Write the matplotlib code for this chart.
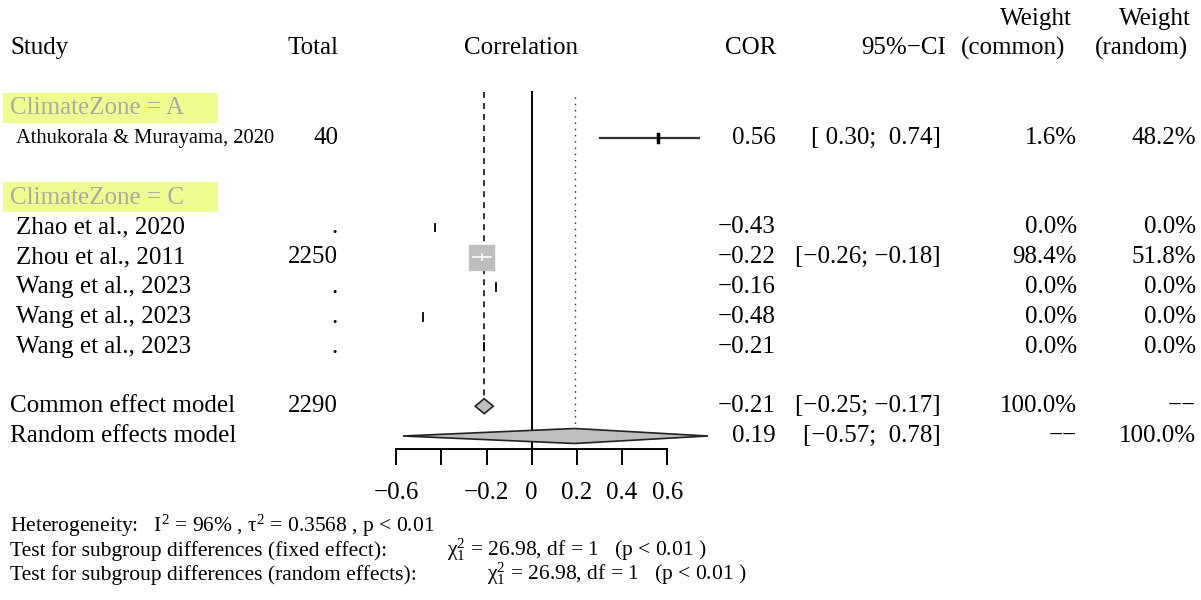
import numpy as np
import matplotlib
matplotlib.use("Agg")
import matplotlib.pyplot as plt
from matplotlib.patches import Rectangle, Polygon
from matplotlib.transforms import blended_transform_factory

plt.rcParams['font.family'] = ['Liberation Serif', 'DejaVu Serif']
plt.rcParams['mathtext.fontset'] = 'custom'
plt.rcParams['mathtext.rm'] = 'Liberation Serif'
plt.rcParams['mathtext.it'] = 'Liberation Serif:italic'

# ---------------- data ----------------
studies = ["Athukorala & Murayama, 2020", "Zhao et al., 2020", "Zhou et al., 2011",
           "Wang et al., 2023", "Wang et al., 2023", "Wang et al., 2023"]
zones = ["A", "C", "C", "C", "C", "C"]
totals = ["40", ".", "2250", ".", ".", "."]
cor = [0.56, -0.43, -0.22, -0.16, -0.48, -0.21]
lower = [0.30, np.nan, -0.26, np.nan, np.nan, np.nan]
upper = [0.74, np.nan, -0.18, np.nan, np.nan, np.nan]
w_common = [1.6, 0.0, 98.4, 0.0, 0.0, 0.0]
w_random = [48.2, 0.0, 51.8, 0.0, 0.0, 0.0]
common_est, common_lo, common_hi = -0.21, -0.25, -0.17
random_est, random_lo, random_hi = 0.19, -0.57, 0.78
total_n = "2290"
xticks = [-0.6, -0.4, -0.2, 0.0, 0.2, 0.4, 0.6]
xtick_labels = ["\u22120.6", "", "\u22120.2", "0", "0.2", "0.4", "0.6"]

# ---------------- layout helpers ----------------
W, H = 1201, 600
PX0 = 531.7       # pixel of x=0
PXU = 226.0       # pixels per unit
R0 = 138.0        # pixel of row 0
RS = 29.8         # pixels per row

fig = plt.figure(figsize=(W / 100, H / 100), dpi=100)
ax = fig.add_axes([0, 0, 1, 1])
ax.set_xlim((0 - PX0) / PXU, (W - PX0) / PXU)
ax.set_ylim((H - R0) / RS, (0 - R0) / RS)
ax.axis("off")
tr = blended_transform_factory(ax.transAxes, ax.transData)

FS = 18

def prow(px):
    return (px - R0) / RS

def txt(px, row, s, ha="left", size=FS, color="black", va="center", **kw):
    ax.text(px / W, row, s, ha=ha, va=va, fontsize=size, color=color,
            transform=tr, **kw)

def fmt(v):
    return f"{v:.2f}".replace("-", "\u2212")

def fmt_ci(lo, hi):
    f = lambda v: f"{v:5.2f}".replace("-", "\u2212")
    return f"[{f(lo)}; {f(hi)}]"

# ---------------- header ----------------
hrow = prow(48)
txt(10, hrow, "Study")
txt(338, hrow, "Total", ha="right")
txt(521, hrow, "Correlation", ha="center")
txt(776, hrow, "COR", ha="right")
txt(946, hrow, "95%\u2212CI", ha="right")
txt(1072, prow(19), "Weight", ha="right")
txt(1065, hrow, "(common)", ha="right")
txt(1191, prow(19), "Weight", ha="right")
txt(1188, hrow, "(random)", ha="right")

# ---------------- rows ----------------
study_rows = [0, 3, 4, 5, 6, 7]
zone_rows = {"A": -1, "C": 2}
for z, r in zone_rows.items():
    ax.add_patch(Rectangle((3 / W, r - 0.51), 215 / W, 1.0, transform=tr,
                           facecolor="#F0FC8E", edgecolor="none", zorder=0))
    txt(10, r, f"ClimateZone = {z}", color="#A8A8A8")

maxw = max(w_common)
for i, r in enumerate(study_rows):
    size = 14.8 if i == 0 else FS
    txt(16, r, studies[i], size=size)
    txt(338, r, totals[i], ha="right")
    txt(776, r, fmt(cor[i]), ha="right")
    if not np.isnan(lower[i]):
        txt(941, r, fmt_ci(lower[i], upper[i]), ha="right")
    txt(1077, r, f"{w_common[i]:.1f}%", ha="right")
    txt(1196, r, f"{w_random[i]:.1f}%", ha="right")
    # graphics
    if w_common[i] > 0:
        side = 25 * np.sqrt(w_common[i] / maxw)
        sw, sh = side / PXU, side / RS
        if w_common[i] > 50:
            ax.add_patch(Rectangle((cor[i] - sw / 2, r - sh / 2), sw, sh,
                                   facecolor="#BEBEBE", edgecolor="#BEBEBE", zorder=3))
            ax.plot([lower[i], upper[i]], [r, r], color="white", lw=1.2, zorder=4)
            ax.plot([cor[i], cor[i]], [r - 0.1, r + 0.1], color="white", lw=1.2, zorder=4)
        else:
            ax.plot([lower[i], upper[i]], [r, r], color="#333333", lw=1.6, zorder=3)
            ax.plot([cor[i], cor[i]], [r - 0.13, r + 0.13], color="black", lw=2.5, zorder=4)
    else:
        ax.plot([cor[i], cor[i]], [r - 0.13, r + 0.13], color="black", lw=1.3, zorder=4)

# summaries
crow, rrow = 9, 10
txt(10, crow, "Common effect model")
txt(338, crow, total_n, ha="right")
txt(776, crow, fmt(common_est), ha="right")
txt(941, crow, fmt_ci(common_lo, common_hi), ha="right")
txt(1077, crow, "100.0%", ha="right")
txt(1196, crow, "\u2212\u2212", ha="right")
txt(10, rrow, "Random effects model")
txt(776, rrow, fmt(random_est), ha="right")
txt(941, rrow, fmt_ci(random_lo, random_hi), ha="right")
txt(1077, rrow, "\u2212\u2212", ha="right")
txt(1196, rrow, "100.0%", ha="right")

dh = 7.5 / RS
ax.add_patch(Polygon([[common_lo, crow], [common_est, crow - dh], [common_hi, crow],
                      [common_est, crow + dh]], closed=True, facecolor="#BEBEBE",
                     edgecolor="#222222", lw=1.2, zorder=4))
ax.add_patch(Polygon([[random_lo, rrow], [random_est, rrow - dh], [random_hi, rrow],
                      [random_est, rrow + dh]], closed=True, facecolor="#BEBEBE",
                     edgecolor="#222222", lw=1.2, zorder=4))

# reference lines
ax.plot([0, 0], [prow(92), prow(449)], color="black", lw=1.4, zorder=2)
ax.plot([common_est, common_est], [prow(92), crow - dh], color="#222222", lw=1.3,
        linestyle=(0, (3.3, 2.8)), zorder=2)
ax.plot([random_est, random_est], [prow(97), rrow - dh], color="#222222", lw=1.0,
        linestyle=(0, (1, 3.5)), zorder=2)

# x-axis
ay = prow(449)
ax.plot([xticks[0], xticks[-1]], [ay, ay], color="black", lw=1.4)
for t, lab in zip(xticks, xtick_labels):
    ax.plot([t, t], [ay, prow(464)], color="black", lw=1.4)
    if lab:
        ax.text(t, prow(493), lab, ha="center", va="center", fontsize=FS)

# bottom text (baseline aligned)
BS = 15.5
txt(10, prow(532), r"Heterogeneity:   I$^{2}$ = 96% , $\mathrm{\tau}^{2}$ = 0.3568 , p < 0.01",
    size=BS, va="baseline")
txt(10, prow(556), "Test for subgroup differences (fixed effect):", size=BS, va="baseline")
txt(447, prow(556), r"$\mathrm{\chi}^{2}_{1}$ = 26.98, df = 1   (p < 0.01 )", size=BS, va="baseline")
txt(10, prow(580), "Test for subgroup differences (random effects):", size=BS, va="baseline")
txt(487, prow(580), r"$\mathrm{\chi}^{2}_{1}$ = 26.98, df = 1   (p < 0.01 )", size=BS, va="baseline")

fig.savefig("out.png", dpi=100)
